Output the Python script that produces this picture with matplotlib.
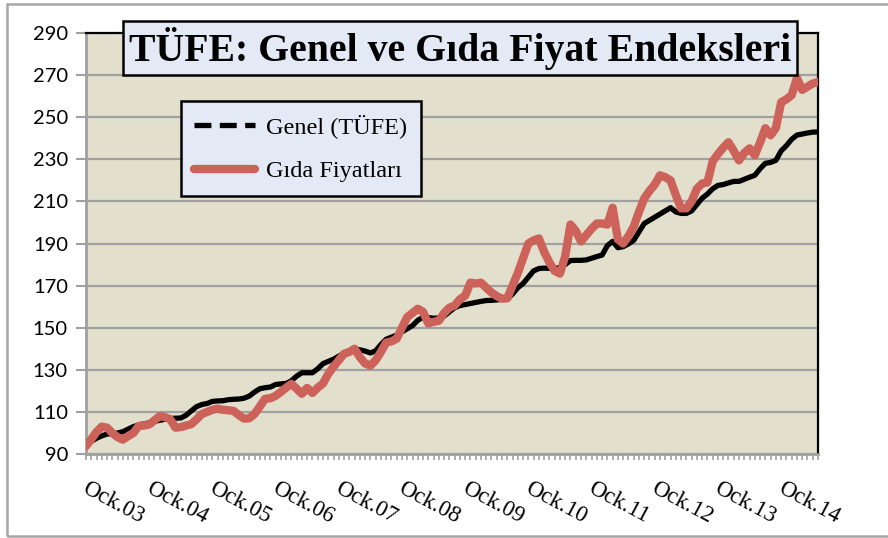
import numpy as np
import matplotlib.pyplot as plt
from matplotlib.lines import Line2D
from matplotlib.patches import Rectangle

# monthly index values, Jan 2003 .. Aug 2014
genel = [
    94.0, 96.0, 97.5, 98.6, 99.5, 99.6, 100.0, 100.6, 101.8, 103.0, 103.8, 104.3,
    104.8, 105.5, 106.0, 106.5, 106.9, 107.0, 107.1, 108.4, 110.5, 112.5, 113.5, 114.0,
    115.0, 115.2, 115.3, 115.8, 116.0, 116.1, 116.5, 117.5, 119.4, 121.0, 121.5, 121.8,
    123.0, 123.3, 123.5, 124.8, 127.0, 128.6, 128.6, 128.6, 130.5, 132.9, 134.0, 135.0,
    136.5, 137.8, 138.8, 140.0, 139.5, 138.9, 138.0, 139.0, 142.0, 144.5, 145.5, 146.5,
    148.0, 149.5, 151.0, 153.5, 155.0, 154.8, 154.5, 154.6, 155.5, 157.5, 159.5, 160.5,
    161.0, 161.5, 162.0, 162.5, 162.9, 163.0, 163.2, 163.5, 163.8, 166.0, 169.0, 171.0,
    174.0, 177.0, 178.1, 178.3, 178.2, 178.1, 178.6, 180.0, 181.9, 182.0, 182.0, 182.2,
    183.0, 183.8, 184.5, 189.0, 191.0, 188.0, 188.5, 189.8, 191.5, 195.5, 199.5, 201.0,
    202.5, 204.0, 205.5, 207.0, 205.0, 204.3, 204.3, 205.5, 208.5, 211.5, 213.5, 216.0,
    217.6, 218.0, 218.8, 219.5, 219.5, 220.5, 221.5, 222.4, 225.5, 228.1, 228.5, 229.5,
    234.0, 236.5, 239.5, 241.5, 242.0, 242.5, 242.9, 243.0,
]
gida = [
    93.8, 97.0, 100.5, 103.0, 102.5, 100.0, 98.0, 96.8, 98.5, 100.0, 103.3, 103.5,
    104.0, 106.0, 108.0, 107.5, 106.5, 102.5, 102.8, 103.5, 104.2, 106.5, 109.0, 110.0,
    111.0, 111.5, 111.0, 110.8, 110.5, 108.5, 106.8, 107.0, 109.0, 112.5, 116.2, 116.5,
    117.6, 119.5, 121.5, 123.3, 121.0, 118.6, 121.4, 119.0, 121.5, 123.5, 128.0, 131.5,
    134.5, 137.6, 138.5, 140.0, 136.0, 133.0, 132.0, 134.5, 138.5, 142.9, 143.5, 144.8,
    150.0, 155.0, 157.0, 159.0, 157.5, 152.0, 152.8, 153.3, 157.0, 159.5, 160.5, 163.5,
    165.2, 171.4, 171.0, 171.4, 169.0, 166.7, 165.0, 163.8, 164.0, 170.0, 176.0, 183.0,
    190.0, 191.5, 192.4, 186.0, 181.0, 177.0, 175.7, 184.0, 199.0, 196.0, 191.0, 194.0,
    197.0, 199.5, 199.5, 199.0, 207.0, 192.0, 190.0, 193.5, 198.0, 205.0, 211.4, 215.0,
    218.0, 222.4, 221.5, 220.0, 213.0, 206.7, 206.7, 210.0, 216.0, 218.5, 219.0, 229.0,
    232.5, 235.5, 238.1, 234.0, 229.5, 233.0, 235.2, 231.9, 238.0, 244.8, 241.4, 244.8,
    257.1, 258.5, 260.5, 268.6, 263.0, 264.5, 266.0, 266.7,
]
year_labels = ['Ock.03', 'Ock.04', 'Ock.05', 'Ock.06', 'Ock.07', 'Ock.08',
               'Ock.09', 'Ock.10', 'Ock.11', 'Ock.12', 'Ock.13', 'Ock.14']
y_ticks = list(range(90, 291, 20))

months = np.arange(len(genel))

fig = plt.figure(figsize=(8.88, 5.38), dpi=100)
ax = fig.add_axes([86 / 888, 1 - 454 / 538, 732 / 888, 421 / 538])
ax.set_facecolor('#e2dfcc')

# outer chart frame (right side runs off the picture)
fig.patches.append(Rectangle((7 / 888, 2 / 538), 1.0, 532 / 538, transform=fig.transFigure,
                             fill=False, edgecolor='#a6a6a6', linewidth=1.8))

ax.plot(months, genel, color='black', lw=3.8, solid_joinstyle='round', zorder=3)
ax.plot(months, gida, color='#cd625a', lw=6.0, solid_joinstyle='round',
        solid_capstyle='round', zorder=4)

ax.set_xlim(0, len(genel) - 1)
ax.set_ylim(90, 290)
ax.set_yticks(y_ticks)
ax.yaxis.grid(True, color='#a0a0a0', lw=1.6)
ax.set_axisbelow(True)

for s in ['left', 'bottom']:
    ax.spines[s].set_color('#a0a0a0')
    ax.spines[s].set_linewidth(2)
for s in ['top', 'right']:
    ax.spines[s].set_color('black')
    ax.spines[s].set_linewidth(1.6)

ax.tick_params(axis='y', length=7, width=1.5, color='#a0a0a0', labelsize=14.5, pad=6,
               labelcolor='black')
for lab in ax.get_yticklabels():
    lab.set_fontfamily('Lato')

# monthly minor ticks on the category axis, labels every January
ax.set_xticks(months, minor=True)
ax.set_xticks(months[::12])
ax.set_xticklabels([])
ax.tick_params(axis='x', which='both', length=4, width=1.2, color='#a0a0a0')
for i, lab in zip(months[::12], year_labels):
    ax.annotate(lab, xy=(i, 0), xycoords=('data', 'axes fraction'),
                xytext=(3, -24), textcoords='offset pixels',
                rotation=-28, rotation_mode='anchor', ha='left', va='top',
                fontsize=16.5, family='Liberation Serif')

# title box
fig.text(0.5 * (123 + 797) / 888, 1 - 48 / 538, 'TÜFE: Genel ve Gıda Fiyat Endeksleri',
         ha='center', va='center', fontsize=28.6, fontweight='bold', family='Liberation Serif',
         bbox=dict(boxstyle='square,pad=0.14', facecolor='#e3eaf5', edgecolor='black', lw=1.8),
         zorder=10)

handles = [Line2D([], [], color='black', lw=3.8, linestyle=(0, (3.2, 1.6))),
           Line2D([], [], color='#cd625a', lw=6.0, solid_capstyle='round')]
leg = fig.legend(handles, ['Genel (TÜFE)', 'Gıda Fiyatları'],
                 loc='upper left', bbox_to_anchor=(181 / 888, 1 - 101 / 538),
                 borderaxespad=0,
                 prop={'family': 'Liberation Serif', 'size': 17.5},
                 frameon=True, fancybox=False, edgecolor='black', facecolor='#e3eaf5',
                 framealpha=1, handlelength=2.5, handletextpad=0.45, labelspacing=0.9,
                 borderpad=0.55)
leg.get_frame().set_linewidth(1.8)

fig.savefig('out.png', dpi=100)
